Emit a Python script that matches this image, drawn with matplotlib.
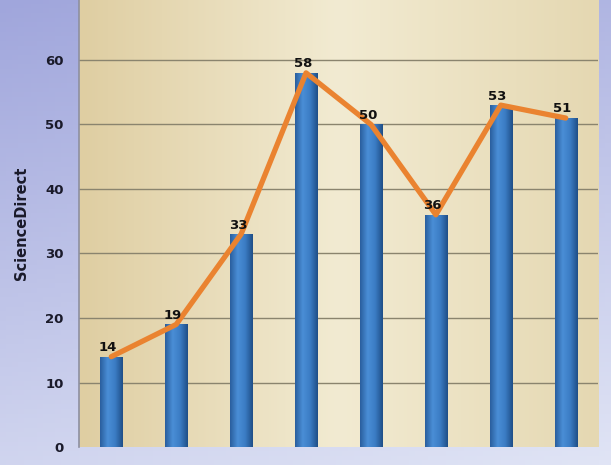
import numpy as np
import matplotlib.pyplot as plt
import matplotlib as mpl
from matplotlib.colors import LinearSegmentedColormap

# data
categories = ["1", "2", "3", "4", "5", "6", "7", "8"]
values = [14, 19, 33, 58, 50, 36, 53, 51]
ylabel = "ScienceDirect"
yticks = [0, 10, 20, 30, 40, 50, 60]

fig = plt.figure(figsize=(6.11, 4.65), dpi=100)

# figure background gradient (lavender)
bg = fig.add_axes([0, 0, 1, 1], zorder=-10)
gy, gx = np.mgrid[0:1:100j, 0:1:100j]
bg_cmap = LinearSegmentedColormap.from_list("bg", ["#e0e4f5", "#a0a6dc"])
bg.imshow(0.75 * gy + 0.25 * (1 - gx), cmap=bg_cmap, extent=[0, 1, 0, 1],
          origin="lower", aspect="auto", vmin=0, vmax=1)
bg.axis("off")

ax = fig.add_axes([0.129, 0.0387, 0.850, 0.971])
x = np.arange(len(values))
ax.set_xlim(-0.5, len(values) - 0.5)
ax.set_ylim(0, 70)

# plot area gradient (beige)
pa_cmap = LinearSegmentedColormap.from_list("pa", ["#dfcea2", "#f2ebd2", "#e5d8b2"])
grad = np.tile(np.linspace(0, 1, 200), (50, 1))
ax.imshow(grad, cmap=pa_cmap, extent=[-0.5, len(values) - 0.5, 0, 70],
          aspect="auto", zorder=0)

for t in yticks[1:]:
    ax.axhline(t, color="#8a846e", lw=1.0, zorder=1)

# bars with cylinder-like shading
bar_cmap = LinearSegmentedColormap.from_list(
    "bar", ["#2a5f9e", "#4a8ed6", "#3b7cc4", "#1f4f88"])
bars = ax.bar(x, values, width=0.34, color="#3a7cc4", zorder=2)
for b in bars:
    im = ax.imshow(np.tile(np.linspace(0, 1, 50), (2, 1)), cmap=bar_cmap,
                   extent=[b.get_x(), b.get_x() + b.get_width(), 0, b.get_height()],
                   aspect="auto", zorder=2.5)
    im.set_clip_path(b)

ax.plot(x, values, color="#ea8330", lw=3.8, solid_joinstyle="round",
        solid_capstyle="round", zorder=3)

for xi, v in zip(x, values):
    ax.text(xi - 0.05, v + 0.4, str(v), ha="center", va="bottom",
            fontsize=9.5, fontweight="bold", color="#111111", zorder=4)

ax.set_yticks(yticks)
ax.set_yticklabels([str(t) for t in yticks], fontsize=9.5, fontweight="bold",
                   color="#1a1a2a")
ax.set_xticks([])
ax.tick_params(axis="y", length=0, pad=11)
for s in ["top", "right", "bottom"]:
    ax.spines[s].set_visible(False)
ax.spines["left"].set_color("#8d8fa0")
ax.spines["left"].set_linewidth(1.2)

fig.text(0.036, 0.52, ylabel, rotation=90, ha="center", va="center",
         fontsize=10.5, fontweight="bold", color="#1a1a2a")

fig.savefig("out.png", dpi=100)
